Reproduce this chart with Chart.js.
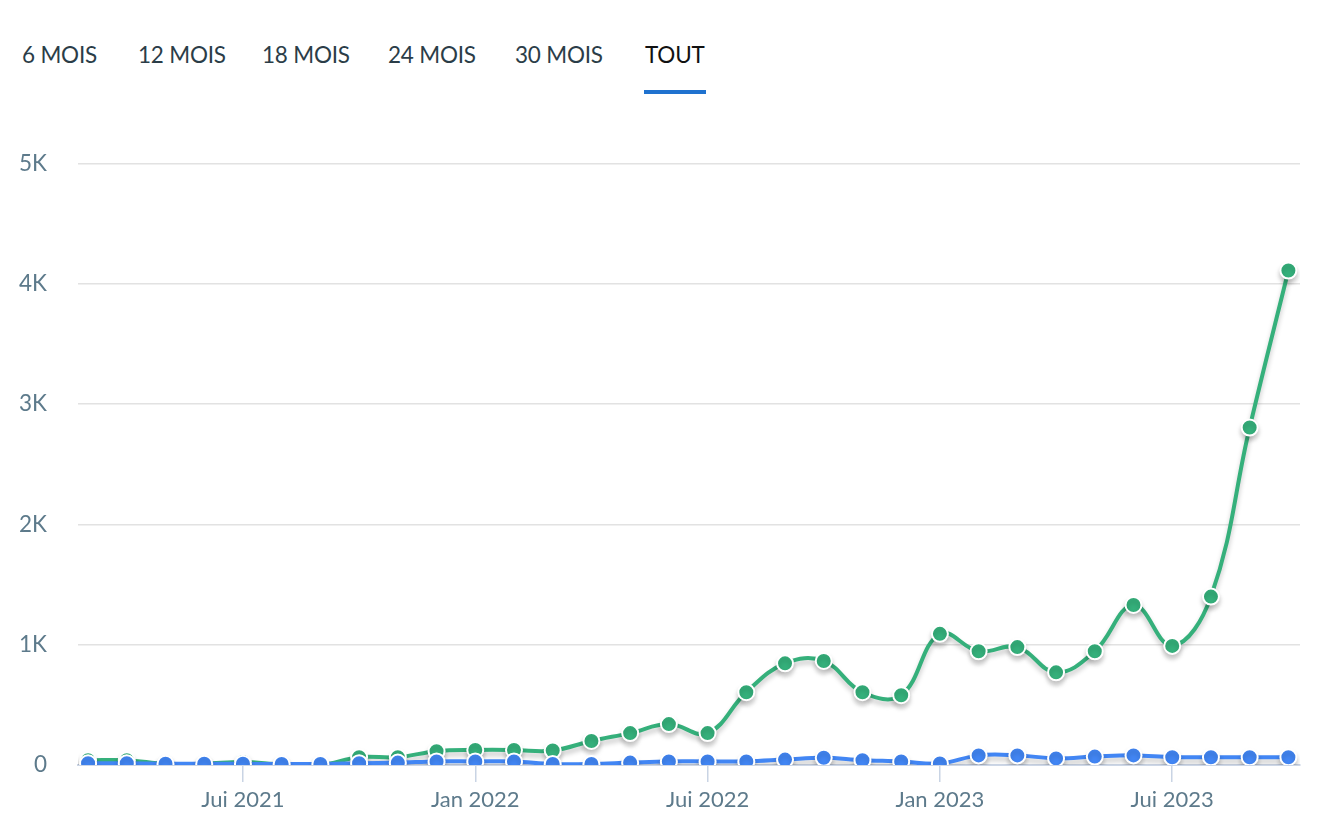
<!DOCTYPE html>
<html>
<head>
<meta charset="utf-8">
<script src="https://cdn.jsdelivr.net/npm/chart.js@4"></script>
<style>
  body { margin: 0; background: #fff; font-family: Lato, "Open Sans", sans-serif; }
  .tab { position: absolute; top: 41px; font-size: 22.5px; color: #2b3d48; letter-spacing: -0.2px; }
  .tab.active { color: #111; }
  #underline { position: absolute; left: 644px; top: 90px; width: 62px; height: 4px; background: #1f72cf; }
  #wrap { position: absolute; left: 0; top: 119px; width: 1318px; height: 699px; }
</style>
</head>
<body>
<div id="tabs"></div>
<div id="underline"></div>
<div id="wrap"><canvas id="canvas"></canvas></div>
<script>
var tabNames = ['6 MOIS', '12 MOIS', '18 MOIS', '24 MOIS', '30 MOIS', 'TOUT'];
var tabLeft = [22, 138, 262, 388, 515, 645];

// monthly points, Mars 2021 -> Oct 2023
var greenValues = [40, 40, 10, 10, 25, 5, 0, 65, 65, 115, 125, 125, 120, 200, 265, 340,
                   265, 605, 845, 865, 605, 580, 1090, 945, 980, 770, 945, 1330, 990, 1400, 2805, 4110];
var blueValues = [15, 15, 10, 10, 10, 8, 8, 15, 20, 30, 30, 30, 8, 8, 20, 30,
                  30, 30, 45, 60, 40, 30, 12, 80, 80, 55, 70, 80, 65, 65, 65, 65];
var tickIndex = [4, 10, 16, 22, 28];
var tickLabels = ['Jui 2021', 'Jan 2022', 'Jui 2022', 'Jan 2023', 'Jui 2023'];

var tabs = document.getElementById('tabs');
tabNames.forEach(function(name, i){
    var d = document.createElement('div');
    d.className = 'tab' + (name == 'TOUT' ? ' active' : '');
    d.style.left = tabLeft[i] + 'px';
    d.textContent = name;
    tabs.appendChild(d);
});

function toPoints(arr){
    return arr.map(function(v, i){ return {x: i, y: v}; });
}

var shadowPlugin = {
    id: 'lineShadow',
    beforeDatasetDraw: function(chart){
        var c = chart.ctx;
        c.save();
        c.shadowColor = 'rgba(0,0,0,0.22)';
        c.shadowBlur = 5;
        c.shadowOffsetY = 4;
    },
    afterDatasetDraw: function(chart){
        chart.ctx.restore();
    }
};

var ctx = document.getElementById('canvas').getContext('2d');
var myChart = new Chart(ctx, {
    type: 'line',
    data: {
        datasets: [{
            label: 'bleu',
            data: toPoints(blueValues),
            borderColor: '#4286f4',
            backgroundColor: '#4286f4',
            borderWidth: 4,
            pointRadius: 8,
            pointBorderWidth: 2,
            pointBorderColor: '#fff',
            pointBackgroundColor: '#4286f4',
            tension: 0.4
        },
        {
            label: 'vert',
            data: toPoints(greenValues),
            borderColor: '#35b07b',
            backgroundColor: '#35b07b',
            borderWidth: 4,
            pointRadius: 8,
            pointBorderWidth: 2,
            pointBorderColor: '#fff',
            pointBackgroundColor: '#35b07b',
            tension: 0.4
        }]
    },
    plugins: [shadowPlugin],
    options: {
        responsive: true,
        maintainAspectRatio: false,
        animation: false,
        layout: { padding: { top: 23, right: 18, left: 0, bottom: 0 } },
        plugins: { legend: { display: false }, tooltip: { enabled: false } },
        scales: {
            x: {
                type: 'linear',
                min: -0.26,
                max: 31.3,
                afterBuildTicks: function(scale){
                    scale.ticks = tickIndex.map(function(v){ return {value: v}; });
                },
                afterFit: function(scale){ scale.height = 53; },
                grid: { drawOnChartArea: false, tickLength: 17, color: '#c9d4e4', lineWidth: 1.5 },
                border: { display: true, color: '#ccd6e6', width: 2 },
                ticks: {
                    autoSkip: false,
                    maxRotation: 0,
                    padding: 5,
                    color: '#5d7a8b',
                    font: { family: 'Lato', size: 22 },
                    callback: function(v){
                        var k = tickIndex.indexOf(v);
                        return k >= 0 ? tickLabels[k] : '';
                    }
                }
            },
            y: {
                min: 0,
                max: 5000,
                afterFit: function(scale){ scale.width = 78; },
                grid: { color: '#e2e2e2', lineWidth: 1.5, drawTicks: false },
                border: { display: false },
                ticks: {
                    stepSize: 1000,
                    padding: 31,
                    color: '#5d7a8b',
                    font: { family: 'Lato', size: 22.5 },
                    callback: function(v){ return v == 0 ? '0' : (v / 1000) + 'K'; }
                }
            }
        }
    }
});
</script>
</body>
</html>
